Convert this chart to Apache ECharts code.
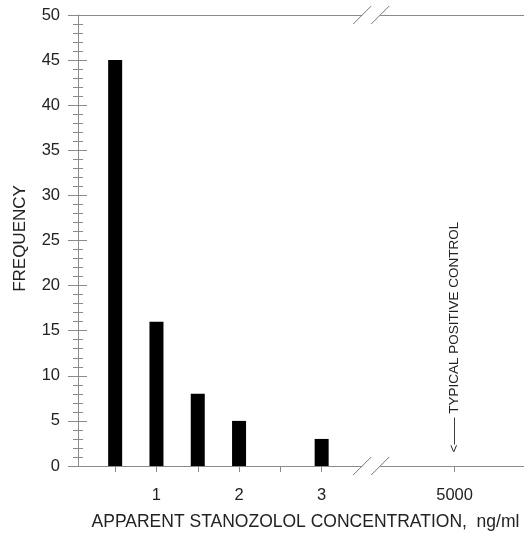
<!DOCTYPE html>
<html>
<head>
<meta charset="utf-8">
<script src="https://cdn.jsdelivr.net/npm/echarts@6/dist/echarts.min.js"></script>
<style>
html,body{margin:0;padding:0;background:#fff;}
#c{width:524px;height:535px;}
</style>
</head>
<body>
<div id="c"></div>
<script>
// ---- data ----
var concentrations = [0.5, 1, 1.5, 2, 2.5, 3];
var frequencies = [45, 16, 8, 5, 0, 3];
var xTickValues = [0.5, 1, 1.5, 2, 2.5, 3, 4.61];
var xTickLabels = ['', '1', '', '2', '', '3', '5000'];
var yTicks = [0, 5, 10, 15, 20, 25, 30, 35, 40, 45, 50];
var positiveControlX = 4.61;   // axis position of "5000"
var breakX = 3.6;              // axis break position
var xTitle = 'APPARENT STANOZOLOL CONCENTRATION,  ng/ml';
var yTitle = 'FREQUENCY';
var annotation = '<\u2014\u2014 TYPICAL POSITIVE CONTROL';

var FONT = 'Liberation Sans, Arial, Helvetica, sans-serif';
var AXC = '#8a8a8a';
var TXT = '#222';

var chart = echarts.init(document.getElementById('c'), null, {renderer: 'canvas'});
var seriesData = concentrations.map(function (c, i) { return [c, frequencies[i]]; });

var option = {
  animation: false,
  backgroundColor: '#fff',
  grid: {left: 78, right: 0, top: 15, bottom: 69, containLabel: false, outerBoundsMode: 'none'},
  xAxis: [{
    type: 'value', position: 'bottom', min: 0.05, max: 5.45,
    axisLine: {show: true, onZero: false, lineStyle: {color: AXC, width: 1}},
    axisTick: {show: true, length: 6, customValues: xTickValues, lineStyle: {color: AXC}},
    axisLabel: {
      show: true, customValues: xTickValues, margin: 21,
      color: TXT, fontSize: 16.5, fontFamily: FONT,
      formatter: function (v) {
        for (var i = 0; i < xTickValues.length; i++) {
          if (Math.abs(xTickValues[i] - v) < 1e-6) return xTickLabels[i];
        }
        return '';
      }
    },
    splitLine: {show: false},
    name: xTitle, nameLocation: 'middle', nameGap: 47,
    nameTextStyle: {color: TXT, fontSize: 17.5, fontFamily: FONT, padding: [0, 0, 0, 9]}
  }, {
    type: 'value', position: 'top', min: 0.05, max: 5.45,
    axisLine: {show: true, onZero: false, lineStyle: {color: AXC, width: 1}},
    axisTick: {show: false}, axisLabel: {show: false}, splitLine: {show: false}
  }],
  yAxis: [{
    type: 'value', position: 'left', min: 0, max: 50, interval: 5,
    axisLine: {show: true, onZero: false, lineStyle: {color: AXC, width: 1}},
    axisTick: {show: true, inside: false, length: 10, lineStyle: {color: AXC}},
    minorTick: {show: true, splitNumber: 5, length: 5, lineStyle: {color: AXC}},
    axisLabel: {show: true, margin: 18, color: TXT, fontSize: 16.5, fontFamily: FONT,
      customValues: yTicks},
    splitLine: {show: false}, minorSplitLine: {show: false},
    name: yTitle, nameLocation: 'middle', nameGap: 49, nameRotate: 90,
    nameTextStyle: {color: TXT, fontSize: 17, fontFamily: FONT, padding: [0, 0, 0, 4]}
  }, {
    type: 'value', position: 'left', min: 0, max: 50, interval: 5,
    axisLine: {show: false},
    axisTick: {show: true, inside: true, length: 9, lineStyle: {color: AXC}},
    minorTick: {show: true, splitNumber: 5, length: 5, lineStyle: {color: AXC}},
    axisLabel: {show: false}, splitLine: {show: false}
  }],
  series: [{
    type: 'bar', xAxisIndex: 0, yAxisIndex: 0,
    data: seriesData, barWidth: 14,
    itemStyle: {color: '#000'}
  }]
};
chart.setOption(option);

function px(x, y) { return chart.convertToPixel({xAxisIndex: 0, yAxisIndex: 0}, [x, y]); }
var b0 = px(breakX, 0), b1 = px(breakX, 50);
var gfx = [];
[b0, b1].forEach(function (p) {
  gfx.push({type: 'rect', shape: {x: p[0] - 9, y: p[1] - 2, width: 18, height: 4},
    style: {fill: '#fff'}, z: 100});
  [-9, 9].forEach(function (dx) {
    gfx.push({type: 'line', shape: {x1: p[0] + dx - 9, y1: p[1] + 9, x2: p[0] + dx + 9, y2: p[1] - 9},
      style: {stroke: '#777', lineWidth: 1}, z: 101});
  });
});
var a = px(positiveControlX, 1.5);
gfx.push({type: 'text', x: a[0], y: a[1], rotation: Math.PI / 2,
  style: {text: annotation, fill: TXT, font: '13.5px ' + FONT, align: 'left', verticalAlign: 'middle'}, z: 102});
chart.setOption({graphic: gfx});
</script>
</body>
</html>
